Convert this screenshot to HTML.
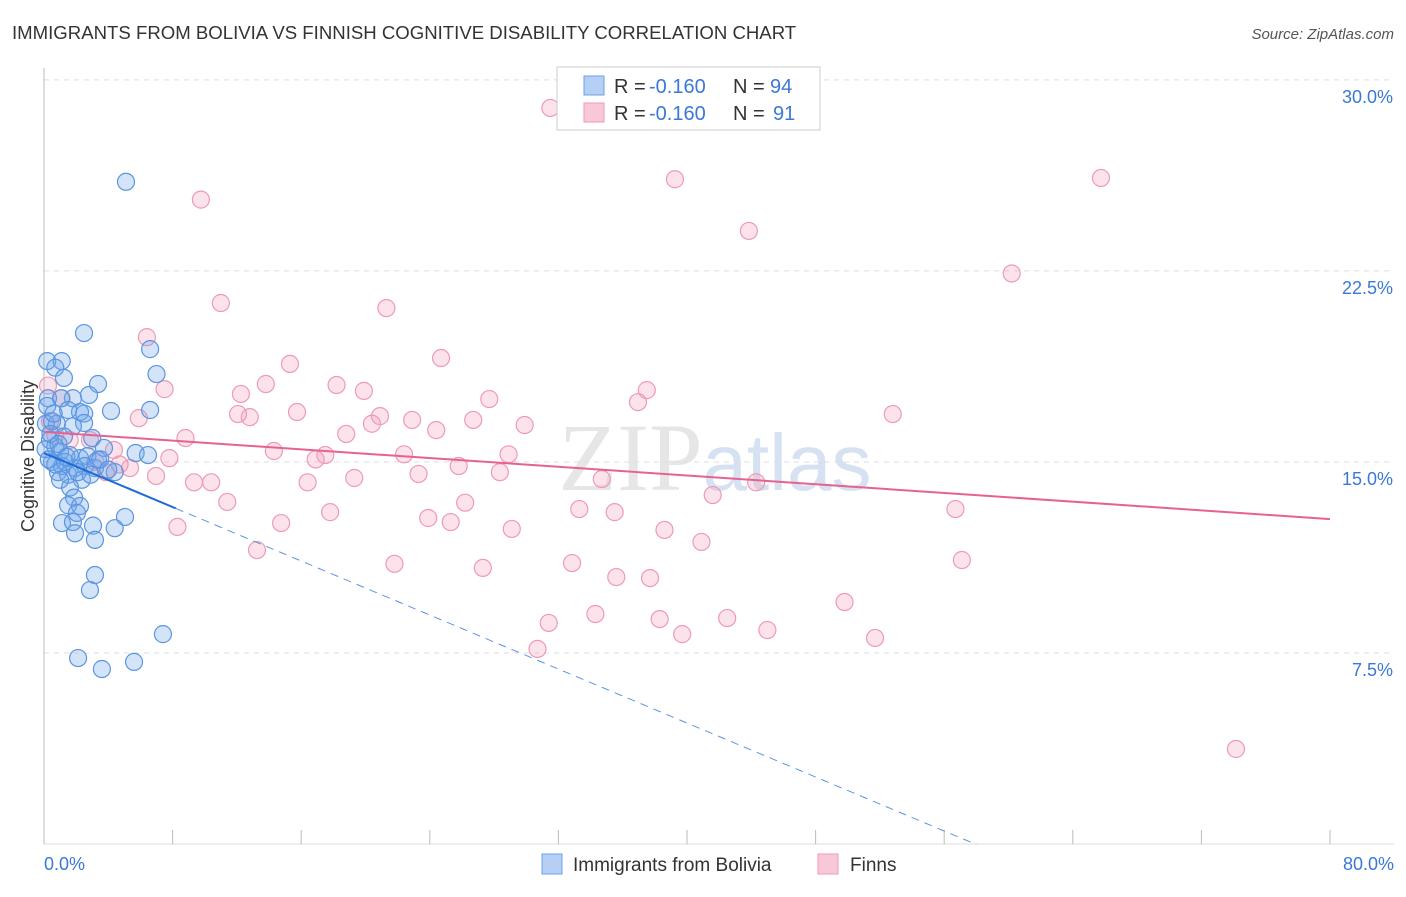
<!DOCTYPE html>
<html><head><meta charset="utf-8"><style>
body{margin:0;background:#fff;font-family:"Liberation Sans",sans-serif}
</style></head><body>
<svg id="chart" width="1406" height="892" xmlns="http://www.w3.org/2000/svg">
<text x="12" y="39" font-size="18.6" fill="#333">IMMIGRANTS FROM BOLIVIA VS FINNISH COGNITIVE DISABILITY CORRELATION CHART</text>
<text x="1394" y="39" font-size="15" fill="#555" font-style="italic" text-anchor="end">Source: ZipAtlas.com</text>
<text x="715" y="490" font-size="96" fill="#e6e6e6" text-anchor="middle" font-family="Liberation Serif,serif">ZIP<tspan fill="#d6e2f2" font-family="Liberation Sans,sans-serif" font-size="80">atlas</tspan></text>
<g id="grid"></g><g id="axes"></g><g id="pts"></g><g id="trend"></g>
<text transform="translate(34,456) rotate(-90)" font-size="18" fill="#333" text-anchor="middle">Cognitive Disability</text>
<g>
<rect x="557" y="67" width="263" height="63" fill="#fff" stroke="#ccc"/>
<rect x="584" y="76" width="20" height="19" fill="#b5d0f4" stroke="#6aa0e6"/>
<rect x="584" y="103" width="20" height="19" fill="#f9c8d8" stroke="#ee9ab6"/>
<text x="614" y="93" font-size="20" fill="#333">R = </text><text x="649" y="93" font-size="20" fill="#3a78d8">-0.160</text>
<text x="733" y="93" font-size="20" fill="#333">N = </text><text x="770" y="93" font-size="20" fill="#3a78d8">94</text>
<text x="614" y="120" font-size="20" fill="#333">R = </text><text x="649" y="120" font-size="20" fill="#3a78d8">-0.160</text>
<text x="733" y="120" font-size="20" fill="#333">N = </text><text x="773" y="120" font-size="20" fill="#3a78d8">91</text>
</g>
<g>
<rect x="542" y="854" width="20" height="20" fill="#b5d0f4" stroke="#6aa0e6"/>
<text x="573" y="871" font-size="19" fill="#333">Immigrants from Bolivia</text>
<rect x="818" y="854" width="20" height="20" fill="#f9c8d8" stroke="#ee9ab6"/>
<text x="850" y="871" font-size="19" fill="#333">Finns</text>
</g>
</svg>
<script>
const yTicks=[7.5,15,22.5,30];
const yTickLabels=["7.5%","15.0%","22.5%","30.0%"];
const xTicks=[0,8,16,24,32,40,48,56,64,72,80];
const blueX=[5.1,2.49,6.6,7.0,0.2,1.1,0.7,1.24,3.36,2.8,1.8,0.25,1.06,6.6,4.17,2.24,2.5,1.5,2.49,1.8,0.8,0.12,0.5,1.24,3.0,3.73,5.7,6.47,0.37,0.7,1.0,1.6,2.24,2.7,3.36,0.5,1.12,1.93,2.55,3.17,4.4,0.87,1.5,2.36,1.62,1.87,1.5,2.24,2.05,5.04,1.12,1.8,3.05,4.4,1.93,3.17,3.17,2.86,7.4,2.12,5.6,3.6,0.1,0.3,0.7,1.3,2.1,2.9,1.0,3.5,4.0,0.4,0.9,1.4,0.2,0.6];
const blueY=[26.0,20.06,19.43,18.45,18.96,18.96,18.7,18.3,18.06,17.63,17.5,17.5,17.5,17.04,17.0,16.96,16.9,17.04,16.53,16.4,16.5,16.5,16.6,16.0,15.94,15.55,15.35,15.27,15.86,15.6,15.4,15.27,15.15,15.23,15.08,15.0,14.84,14.76,14.84,14.76,14.6,14.6,14.5,14.3,14.0,13.6,13.3,13.27,13.0,12.84,12.6,12.64,12.5,12.4,12.2,11.94,10.56,9.97,8.24,7.3,7.15,6.87,15.5,15.1,14.9,15.0,14.6,14.5,14.3,15.1,14.7,16.1,15.7,15.2,17.2,16.9];
const pinkX=[31.5,43.6,39.25,65.75,9.76,43.85,60.2,11.0,21.3,6.4,24.7,15.3,13.8,7.5,18.2,19.9,37.5,12.25,27.7,36.95,52.8,12.07,12.8,15.74,20.9,22.9,26.7,5.9,20.4,29.9,24.4,18.8,8.8,2.86,4.35,14.3,22.4,28.9,17.5,7.8,16.9,25.8,5.35,3.85,6.97,23.3,28.36,19.3,16.4,9.33,10.4,34.7,44.3,41.6,11.4,26.2,33.3,35.5,56.7,17.8,23.9,25.3,14.75,8.3,29.1,38.6,40.9,13.25,21.8,27.3,57.1,32.85,35.6,37.7,49.8,34.3,31.4,38.3,42.5,39.7,45.0,51.7,30.7,74.15,0.25,0.37,1.1,1.6,4.7,3.2,0.7];
const pinkY=[28.9,29.4,26.1,26.15,25.3,24.07,22.4,21.24,21.04,19.9,19.08,18.85,18.06,17.86,18.02,17.79,17.82,17.67,17.47,17.35,16.88,16.88,16.76,16.96,16.8,16.65,16.65,16.72,16.5,16.45,16.25,16.1,15.94,15.86,15.47,15.43,15.3,15.3,15.27,15.15,15.1,14.84,14.76,14.6,14.45,14.53,14.6,14.37,14.2,14.2,14.2,14.33,14.2,13.7,13.43,13.4,13.15,13.03,13.15,13.03,12.8,12.64,12.6,12.45,12.37,12.33,11.86,11.54,11.0,10.84,11.15,11.03,10.48,10.44,9.5,9.03,8.68,8.83,8.87,8.24,8.4,8.09,7.66,3.73,18.0,16.6,17.5,15.86,14.9,15.0,16.05];
const blueTrend=[15.35,-0.265];const blueSolidEnd=8.2;const blueDashEnd=58;
const pinkTrend=[16.18,-0.0428];
const X=v=>44+v/80*1286, Y=v=>844-v*25.47;
const NS="http://www.w3.org/2000/svg";
function mk(p,t,a){const e=document.createElementNS(NS,t);for(const k in a)e.setAttribute(k,a[k]);document.getElementById(p).appendChild(e);return e;}
yTicks.forEach((t,i)=>{
 const l=mk('grid','line',{x1:44,x2:1394,y1:Y(t),y2:Y(t),stroke:'#ddd','stroke-dasharray':'5,5'});
 
 
 const tx=mk('grid','text',{x:1393,y:Y(t)+23,'text-anchor':'end','font-size':18,fill:'#3a78d8'});
 tx.textContent=yTickLabels[i];
 
 
});
const ya=mk('axes','line',{x1:44,x2:44,y1:68,y2:844,stroke:'#bbb'});


const xa=mk('axes','line',{x1:44,x2:1394,y1:844,y2:844,stroke:'#ddd'});


xTicks.forEach(t=>{
 const l=mk('axes','line',{x1:X(t),x2:X(t),y1:830,y2:844,stroke:'#bbb'});
 
 
});
[[0,"0.0%","start",44],[80,"80.0%","end",1394]].forEach(d=>{
 const tx=mk('axes','text',{x:d[3],y:870,'text-anchor':d[2],'font-size':18,fill:'#3a78d8'});
 tx.textContent=d[1];
 
 
});
pinkX.forEach((v,i)=>{
 const c=mk('pts','circle',{cx:X(v),cy:Y(pinkY[i]),r:8.5,fill:'rgba(244,160,190,0.3)',stroke:'#ee9ab6','stroke-width':1.2});
 
 
});
blueX.forEach((v,i)=>{
 const c=mk('pts','circle',{cx:X(v),cy:Y(blueY[i]),r:8.5,fill:'rgba(110,165,235,0.3)',stroke:'#5b95e0','stroke-width':1.2});
 
 
});
const bf=x=>blueTrend[0]+blueTrend[1]*x, pf=x=>pinkTrend[0]+pinkTrend[1]*x;
const t1=mk('trend','line',{x1:X(0),y1:Y(bf(0)),x2:X(blueSolidEnd),y2:Y(bf(blueSolidEnd)),stroke:'#1f6ad6','stroke-width':2});


const t2=mk('trend','line',{x1:X(blueSolidEnd),y1:Y(bf(blueSolidEnd)),x2:X(blueDashEnd),y2:Y(bf(blueDashEnd)),stroke:'#5b95e0','stroke-width':1,'stroke-dasharray':'8,6'});


const t3=mk('trend','line',{x1:X(0),y1:Y(pf(0)),x2:X(80),y2:Y(pf(80)),stroke:'#e8628f','stroke-width':2});


</script>
</body></html>
